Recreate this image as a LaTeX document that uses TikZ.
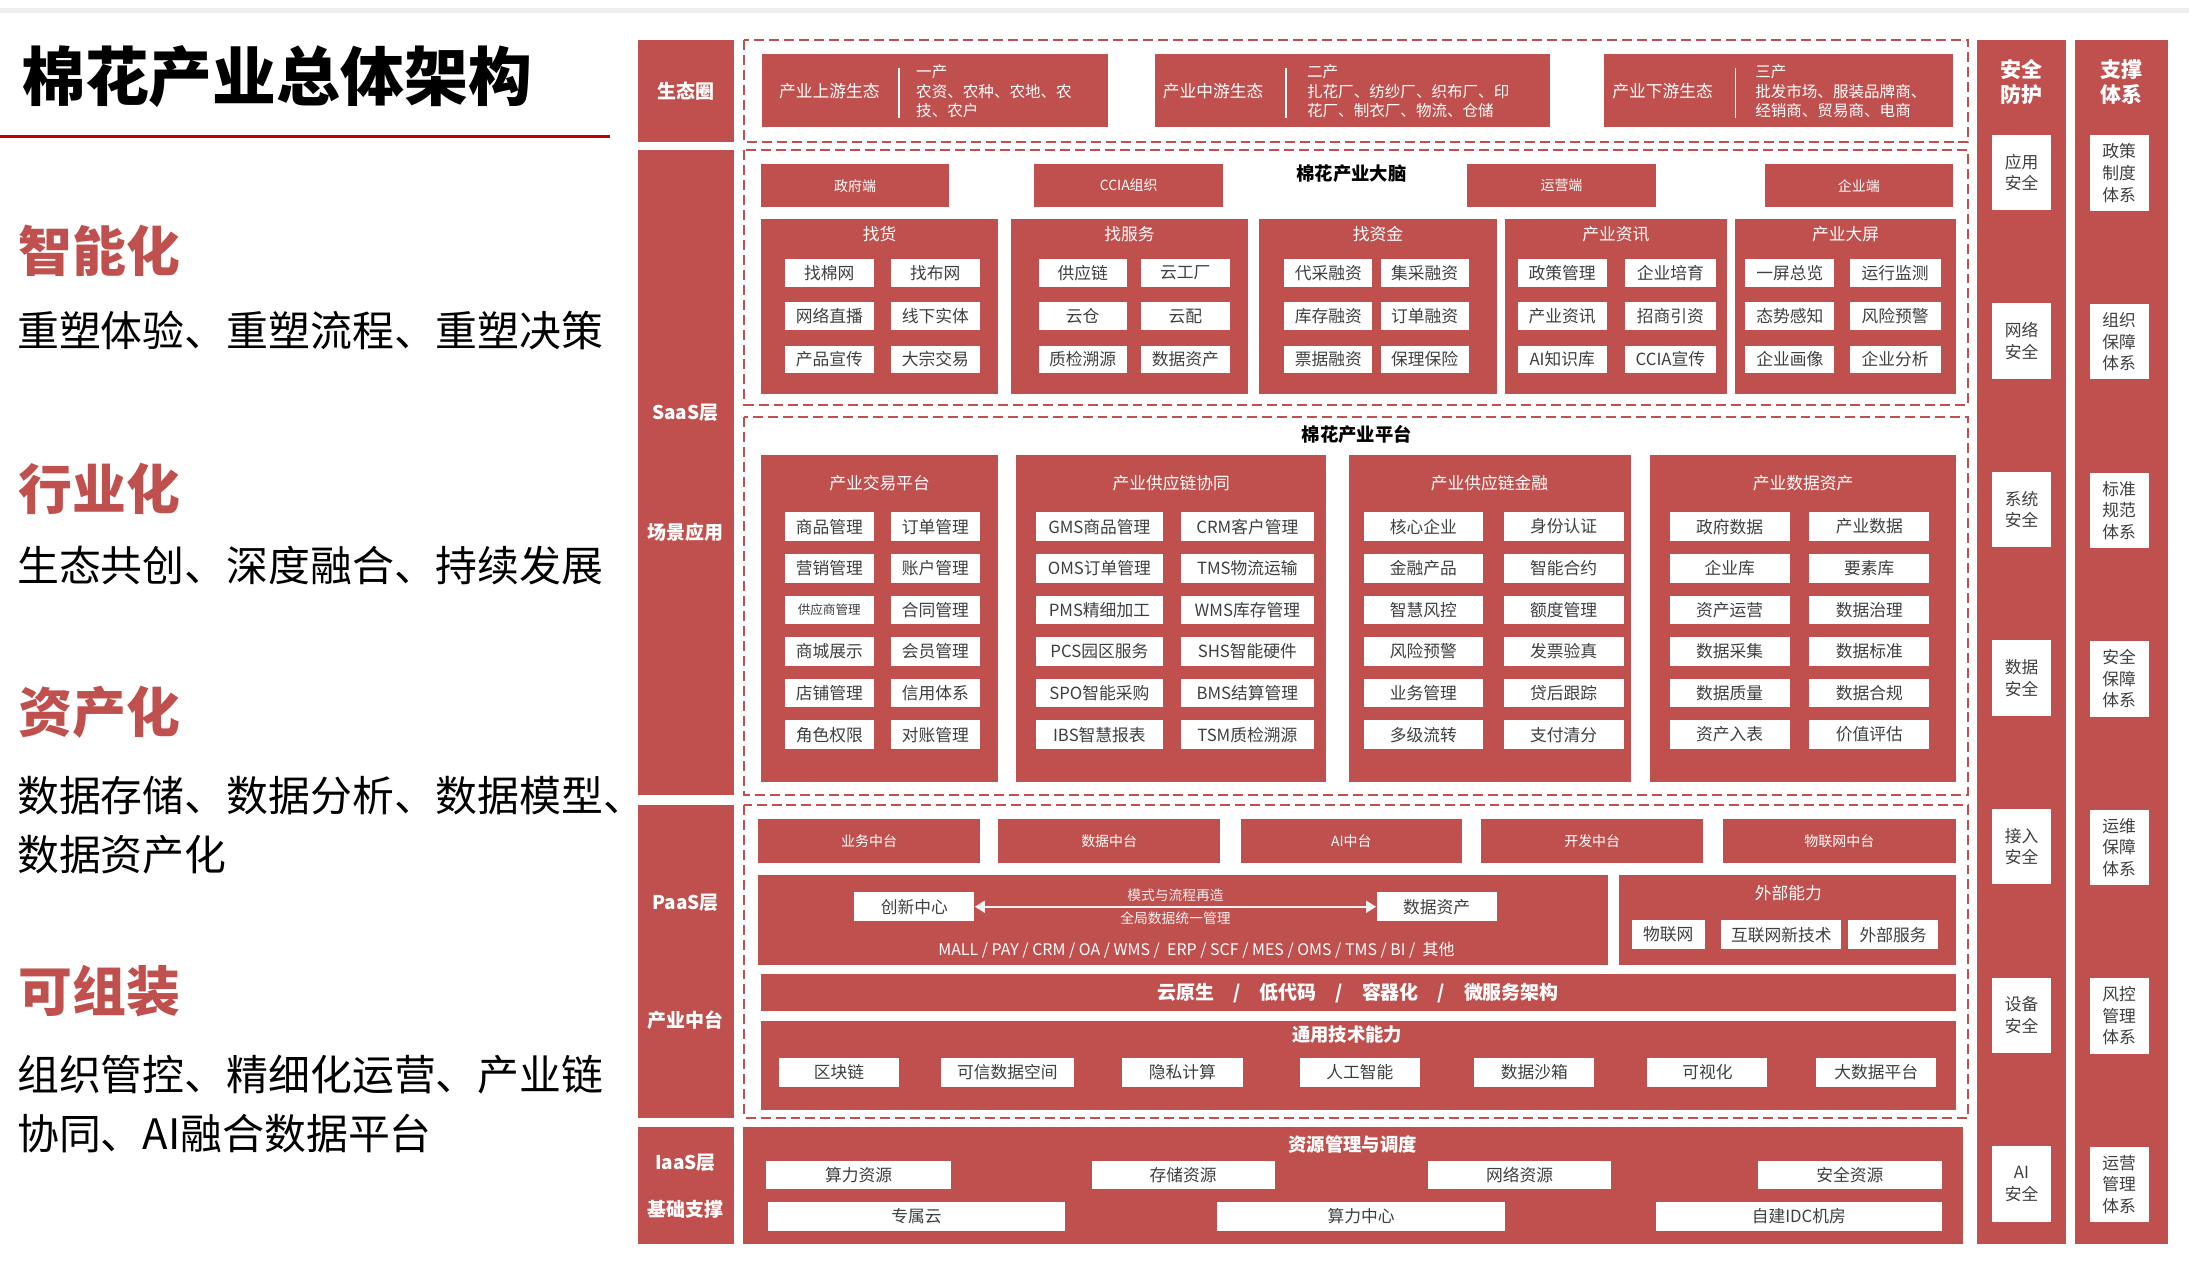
\documentclass[tikz,border=0pt]{standalone}
\usepackage{fontspec}
\setmainfont{Noto Sans CJK SC}
\usetikzlibrary{arrows.meta}
\definecolor{cred}{HTML}{C0504D}
\definecolor{dred}{HTML}{C00000}
\definecolor{tgray}{HTML}{3F3F3F}
\tikzset{
  span/.style n args={4}{minimum width={((#3)-(#1))*0.7pt}, minimum height={((#4)-(#2))*0.7pt},
    at={({((#1)+(#3))/2},{((#2)+(#4))/2})}},
  lay/.style={fill=cred, text=white, inner sep=0pt, align=center, font=\bfseries\fontsize{9.5}{13}\selectfont},
  rbox/.style={fill=cred, text=white, inner sep=0pt, align=center, font=\fontsize{8.4}{10}\selectfont},
  wbox/.style={fill=white, text=tgray, inner sep=0pt, align=center, font=\fontsize{8.4}{10}\selectfont},
  dbox/.style={draw=cred, line width=1pt, dash pattern=on 5pt off 2.5pt},
  ttl/.style={text=black, inner sep=0pt, font=\bfseries\fontsize{9.2}{11}\selectfont},
  wtxt/.style={text=white, inner sep=0pt, align=left, font=\fontsize{8.4}{10}\selectfont},
  hd/.style={anchor=west, inner sep=0pt, text=cred, font=\bfseries\fontsize{27}{30}\selectfont},
  desc/.style={anchor=west, inner sep=0pt, text=black, font=\fontsize{21}{24}\selectfont},
}
\begin{document}
\begin{tikzpicture}[x=0.7pt, y=-0.7pt]
  \useasboundingbox (0,0) rectangle (1568,905);
  \fill[black!7] (0,6) rectangle (1568,9.5);

  % left panel
  \node[anchor=west, inner sep=0pt, font=\bfseries\fontsize{32}{36}\selectfont] (title) at (15,55) {棉花产业总体架构};
  \draw[dred, line width=1.5pt] (0,98) -- (437,98);
  \foreach \y/\lab/\nm in {180/智能化/h1, 350/行业化/h2, 510/资产化/h3, 710/可组装/h4}
    \node[hd] (\nm) at (13,\y) {\lab};
  \foreach \y/\lab/\nm in {237/重塑体验、重塑流程、重塑决策/d1, 405/生态共创、深度融合、持续发展/d2,
      570/数据存储、数据分析、数据模型、/d3, 612/数据资产化/d3b,
      770/组织管控、精细化运营、产业链/d4, 812/协同、AI融合数据平台/d4b}
    \node[desc] (\nm) at (12,\y) {\lab};

  % layer column
  \node[lay, span={457}{28.6}{525.5}{101.6}] (eco) {生态圈};
  \node[lay, span={457}{107.5}{525.5}{569.5}] (saas) {};
  \node[lay, span={457}{576.6}{525.5}{800.6}] (paas) {};
  \node[lay, span={457}{807}{525.5}{891}] (iaas) {};
  \node[lay] (saas-a) at (491,296) {SaaS层};
  \node[lay] (saas-b) at (491,381) {场景应用};
  \node[lay] (paas-a) at (491,647) {PaaS层};
  \node[lay] (paas-b) at (491,731) {产业中台};
  \node[lay] (iaas-a) at (491,833) {IaaS层};
  \node[lay] (iaas-b) at (491,866) {基础支撑};

  % dashed frames
  \draw[dbox] (533,28.5) rectangle (1410,101.5);
  \draw[dbox] (533,107.5) rectangle (1410,290);
  \draw[dbox] (533,298.5) rectangle (1410,569.5);
  \draw[dbox] (533,576.6) rectangle (1410,800.5);

  % ecology
  \foreach \xa/\xb/\xl/\xd/\xt/\lab/\txt/\nm in {
      546/794/594/644/656/产业上游生态/{一产\\农资、农种、农地、农\\技、农户}/up,
      827/1110/869/921/936/产业中游生态/{二产\\扎花厂、纺纱厂、织布厂、印\\花厂、制衣厂、物流、仓储}/mid,
      1149/1399/1191/1243/1257/产业下游生态/{三产\\批发市场、服装品牌商、\\经销商、贸易商、电商}/down}{
    \node[rbox, span={\xa}{39}{\xb}{91}] (\nm) {};
    \node[wtxt] (\nm-l) at (\xl,65) {\lab};
    \draw[white, line width=0.8pt] (\xd,48.5) -- (\xd,84.5);
    \node[wtxt, anchor=west, font=\fontsize{7.8}{9.8}\selectfont] (\nm-r) at (\xt,65.5) {\txt};
  }

  % brain
  \node[ttl] (brain) at (968,124) {棉花产业大脑};
  \foreach \xa/\xb/\lab/\nm in {545/680/政府端/gov, 741/876/CCIA组织/ccia, 1051/1186/运营端/ops, 1264/1399/企业端/ent}
    \node[rbox, font=\fontsize{7}{8}\selectfont, span={\xa}{117.5}{\xb}{148.5}] (\nm) {\lab};
  \foreach \gl/\gr/\la/\lb/\ra/\rb/\nm/\lab/\labs in {
      545/715/562/626/638/702/zh/找货/{找棉网,找布网,网络直播,线下实体,产品宣传,大宗交易},
      724/894/744/807/817/881/zf/找服务/{供应链,云工厂,云仓,云配,质检溯源,数据资产},
      902/1072/920/983/989/1052/zj/找资金/{代采融资,集采融资,库存融资,订单融资,票据融资,保理保险},
      1078/1237/1087/1151/1164/1229/zx/产业资讯/{政策管理,企业培育,产业资讯,招商引资,AI知识库,CCIA宣传},
      1243/1401/1250/1314/1325/1390/dp/产业大屏/{一屏总览,运行监测,态势感知,风险预警,企业画像,企业分析}}{
    \node[rbox, span={\gl}{157}{\gr}{282}] (\nm) {};
    \node[wtxt] (\nm-t) at ({(\gl+\gr)/2},168) {\lab};
    \foreach \it [count=\k from 0] in \labs {
      \pgfmathtruncatemacro\cl{mod(\k,2)}
      \pgfmathtruncatemacro\rw{int(\k/2)}
      \pgfmathsetmacro\xa{\cl==0 ? \la : \ra}
      \pgfmathsetmacro\xb{\cl==0 ? \lb : \rb}
      \pgfmathsetmacro\ya{185.5+31*\rw}
      \node[wbox, span={\xa}{\ya}{\xb}{\ya+20}] (\nm-\k) {\it};
    }
  }

  % platform
  \node[ttl] (plat) at (972,311) {棉花产业平台};
  \foreach \gl/\gr/\la/\lb/\ra/\rb/\nm/\lab/\labs in {
      545/715/562/626/638/702/jy/产业交易平台/{商品管理,订单管理,营销管理,账户管理,{\fontsize{6.3}{7}\selectfont 供应商管理},合同管理,商城展示,会员管理,店铺管理,信用体系,角色权限,对账管理},
      728/950/742/833/846/941/xt/产业供应链协同/{GMS商品管理,CRM客户管理,OMS订单管理,TMS物流运输,PMS精细加工,WMS库存管理,PCS园区服务,SHS智能硬件,SPO智能采购,BMS结算管理,IBS智慧报表,TSM质检溯源},
      966/1168/977/1062/1077/1163/jr/产业供应链金融/{核心企业,身份认证,金融产品,智能合约,智慧风控,额度管理,风险预警,发票验真,业务管理,贷后跟踪,多级流转,支付清分},
      1182/1401/1196/1282/1296/1382/zc/产业数据资产/{政府数据,产业数据,企业库,要素库,资产运营,数据治理,数据采集,数据标准,数据质量,数据合规,资产入表,价值评估}}{
    \node[rbox, span={\gl}{326}{\gr}{560}] (\nm) {};
    \node[wtxt] (\nm-t) at ({(\gl+\gr)/2},346) {\lab};
    \foreach \it [count=\k from 0] in \labs {
      \pgfmathtruncatemacro\cl{mod(\k,2)}
      \pgfmathtruncatemacro\rw{int(\k/2)}
      \pgfmathsetmacro\xa{\cl==0 ? \la : \ra}
      \pgfmathsetmacro\xb{\cl==0 ? \lb : \rb}
      \pgfmathsetmacro\ya{367+29.8*\rw}
      \node[wbox, span={\xa}{\ya}{\xb}{\ya+20.5}] (\nm-\k) {\it};
    }
  }

  % middle platforms
  \foreach \xa/\xb/\lab/\nm in {543/702/业务中台/zt1, 715/874/数据中台/zt2, 889/1047/AI中台/zt3, 1061/1220/开发中台/zt4, 1234/1401/物联网中台/zt5}
    \node[rbox, font=\fontsize{7}{8}\selectfont, span={\xa}{587}{\xb}{618}] (\nm) {\lab};
  \node[rbox, span={543}{627}{1152}{691}] (core) {};
  \node[wbox, span={612}{639}{698}{660}] (cxzx) {创新中心};
  \node[wbox, span={986}{639}{1072}{660}] (sjzc) {数据资产};
  \draw[{Triangle[length=5pt,width=6pt]}-{Triangle[length=5pt,width=6pt]}, black!5, line width=0.8pt]
    (cxzx.east) -- (sjzc.west)
    node[midway, above=2pt, text=black!5, inner sep=0pt, font=\fontsize{6.9}{8}\selectfont] (msc) {模式与流程再造}
    node[midway, below=2pt, text=black!5, inner sep=0pt, font=\fontsize{6.9}{8}\selectfont] (qjsj) {全局数据统一管理};
  \node[wtxt, font=\fontsize{8}{9}\selectfont] (sys) at (857,681) {MALL / PAY / CRM / OA / WMS /\ \ ERP / SCF / MES / OMS / TMS / BI /\ \ 其他};
  \node[rbox, span={1160}{627}{1401}{691}] (ext) {};
  \node[wtxt] (ext-t) at (1281,640) {外部能力};
  \foreach \xa/\xb/\lab/\nm in {1169/1221/物联网/ext1, 1233/1319/互联网新技术/ext2, 1324/1388/外部服务/ext3}
    \node[wbox, span={\xa}{659}{\xb}{680}] (\nm) {\lab};
  \node[rbox, font=\bfseries\fontsize{9.5}{11}\selectfont, span={545}{698}{1401}{724}] (cloud)
    {云原生\quad{}/\quad{}低代码\quad{}/\quad{}容器化\quad{}/\quad{}微服务架构};
  \node[rbox, span={545}{731}{1401}{795}] (tech) {};
  \node[ttl, text=white] (tech-t) at (965,741) {通用技术能力};
  \foreach \xa/\xb/\lab/\nm in {558/644/区块链/t1, 674/769/可信数据空间/t2, 804/890/隐私计算/t3, 931/1017/人工智能/t4,
      1056/1142/数据沙箱/t5, 1180/1266/可视化/t6, 1301/1387/大数据平台/t7}
    \node[wbox, span={\xa}{758}{\xb}{778.5}] (\nm) {\lab};

  % infrastructure
  \node[rbox, span={532}{807}{1406}{891}] (res) {};
  \node[ttl, text=white] (res-t) at (969,820) {资源管理与调度};
  \foreach \xa/\xb/\lab/\nm in {549/681/算力资源/r1, 782/913/存储资源/r2, 1023/1154/网络资源/r3, 1259/1391/安全资源/r4}
    \node[wbox, span={\xa}{831.5}{\xb}{852}] (\nm) {\lab};
  \foreach \xa/\xb/\lab/\nm in {550/763/专属云/s1, 872/1078/算力中心/s2, 1186/1391/自建IDC机房/s3}
    \node[wbox, span={\xa}{861}{\xb}{881.5}] (\nm) {\lab};

  % security and support columns
  \node[lay, span={1416}{28.7}{1480}{891}] (sec) {};
  \node[lay, font=\bfseries\fontsize{10.5}{12.6}\selectfont] (sec-t) at (1448,59) {安全\\防护};
  \node[lay, span={1486}{28.7}{1553}{891}] (sup) {};
  \node[lay, font=\bfseries\fontsize{10.5}{12.6}\selectfont] (sup-t) at (1519.5,59) {支撑\\体系};
  \foreach \lab [count=\k from 0] in {应用\\安全, 网络\\安全, 系统\\安全, 数据\\安全, 接入\\安全, 设备\\安全, AI\\安全}
    \node[wbox, font=\fontsize{8.4}{10.8}\selectfont, span={1427}{96.5+120.75*\k}{1469}{150.5+120.75*\k}] (sec-\k) {\lab};
  \foreach \lab [count=\k from 0] in {政策\\制度\\体系, 组织\\保障\\体系, 标准\\规范\\体系, 安全\\保障\\体系, 运维\\保障\\体系, 风控\\管理\\体系, 运营\\管理\\体系}
    \node[wbox, font=\fontsize{8.4}{10.8}\selectfont, span={1497}{97+120.75*\k}{1539}{151+120.75*\k}] (sup-\k) {\lab};
\end{tikzpicture}
\end{document}
